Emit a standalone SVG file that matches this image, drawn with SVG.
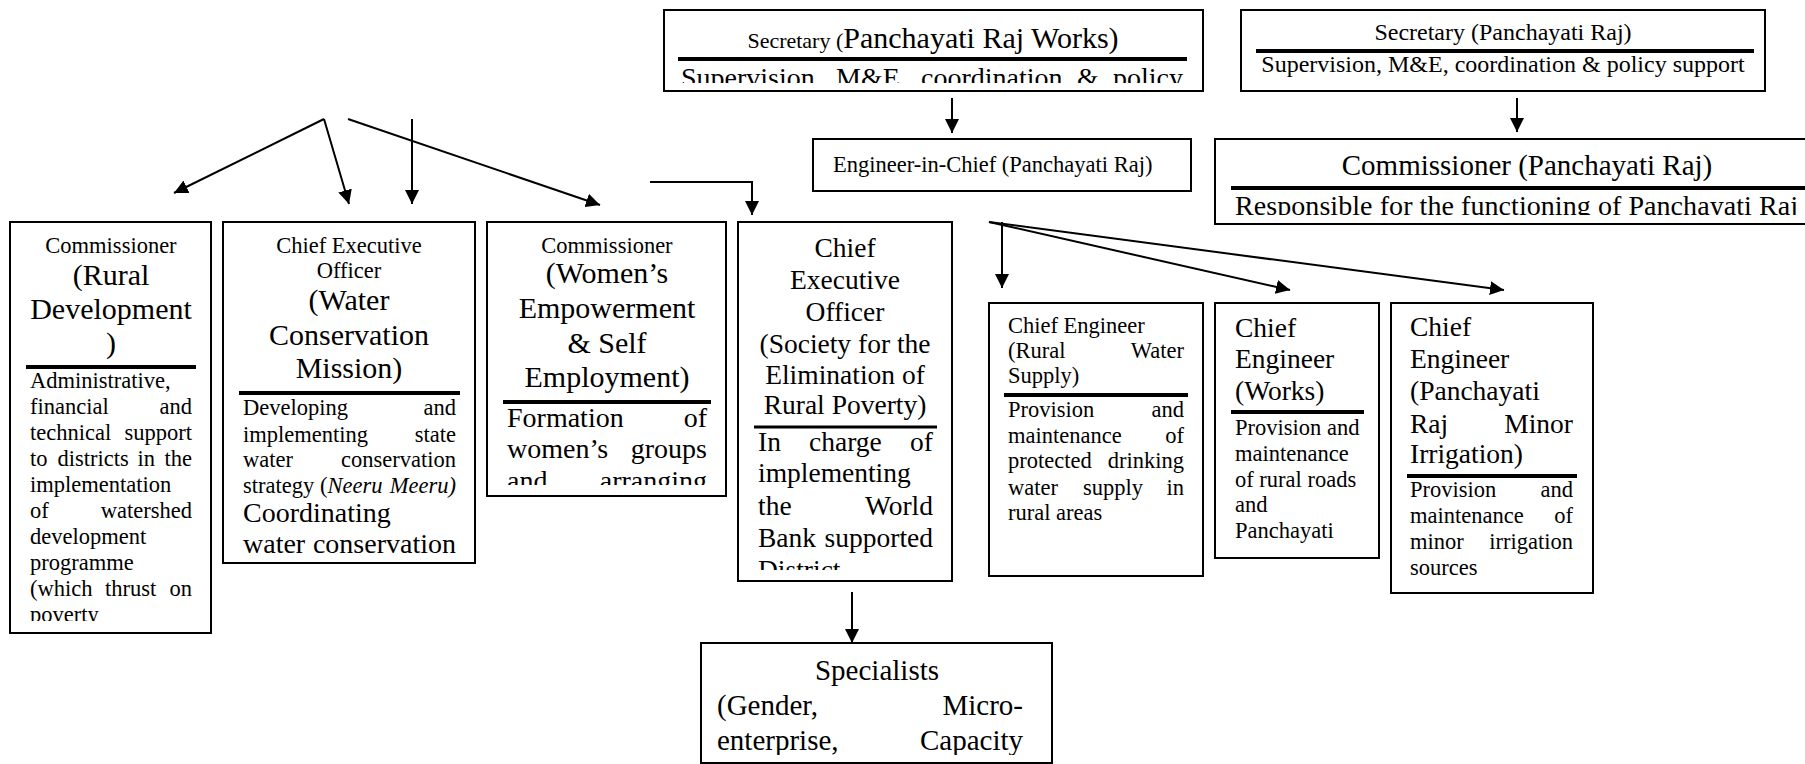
<svg xmlns="http://www.w3.org/2000/svg" width="1805" height="764" viewBox="0 0 1805 764">
<style>
.box{fill:#fff;stroke:#000;stroke-width:2}
.bar{stroke:#000;stroke-width:4}
.bar3{stroke:#000;stroke-width:3}
text{font-family:"Liberation Serif","Times New Roman",serif;fill:#000}
.s22{font-size:22.5px}
.s24{font-size:24px}
.s27{font-size:27.5px}
.s28{font-size:28px}
.s29{font-size:29px}
.s30{font-size:30px}
.c{text-anchor:middle}
.e{text-anchor:end}
.conn path{stroke:#000;stroke-width:2;fill:none;marker-end:url(#ah)}
</style>
<defs>
<marker id="ah" markerUnits="userSpaceOnUse" markerWidth="14" markerHeight="14" refX="14" refY="7" orient="auto"><path d="M0,0 L14,7 L0,14 z" fill="#000"/></marker>
<clipPath id="cp1"><rect x="10" y="369" width="201" height="252"/></clipPath>
<clipPath id="cp2"><rect x="223" y="395" width="252" height="160"/></clipPath>
<clipPath id="cp3"><rect x="487" y="404" width="239" height="81"/></clipPath>
<clipPath id="cp4"><rect x="738" y="429" width="214" height="141"/></clipPath>
<clipPath id="cp5"><rect x="664" y="61" width="539" height="22"/></clipPath>
<clipPath id="cp6"><rect x="1215" y="190" width="590" height="25"/></clipPath>
<clipPath id="cp7"><rect x="701" y="643" width="351" height="112"/></clipPath>
</defs>
<rect width="1805" height="764" fill="#fff"/>

<g id="connectors" class="conn">
<path d="M324,119 L174,193"/>
<path d="M324,119 L349,204"/>
<path d="M412,119 V204"/>
<path d="M348,119 L600,205"/>
<path d="M650,182 H752 V215"/>
<path d="M952,98 V133"/>
<path d="M1517,98 V132"/>
<path d="M1002,222 V288"/>
<path d="M989,222 L1290,290"/>
<path d="M989,222 L1504,290"/>
<path d="M852,592 V643"/>
</g>

<g id="n-sec-prw">
<rect class="box" x="664" y="10" width="539" height="81"/>
<text class="c" x="933" y="48"><tspan font-size="22px">Secretary (</tspan><tspan font-size="30px">Panchayati Raj Works)</tspan></text>
<line class="bar" x1="678" y1="59" x2="1187" y2="59"/>
<g clip-path="url(#cp5)" class="s28">
<text x="681" y="87">Supervision,</text>
<text x="836" y="87">M&amp;E,</text>
<text x="921" y="87">coordination</text>
<text x="1077" y="87">&amp;</text>
<text class="e" x="1183" y="87">policy</text>
</g>
</g>

<g id="n-sec-pr">
<rect class="box" x="1241" y="10" width="524" height="81"/>
<text class="c s24" x="1503" y="40">Secretary (Panchayati Raj)</text>
<line class="bar" x1="1256" y1="51" x2="1754" y2="51"/>
<text class="c s24" x="1503" y="72">Supervision, M&amp;E, coordination &amp; policy support</text>
</g>

<g id="n-eng-chief">
<rect class="box" x="813" y="139" width="378" height="52"/>
<text class="s22" x="833" y="172">Engineer-in-Chief (Panchayati Raj)</text>
</g>

<g id="n-comm-pr">
<rect class="box" x="1215" y="139" width="600" height="85"/>
<text class="c s29" x="1527" y="175">Commissioner (Panchayati Raj)</text>
<line class="bar" x1="1231" y1="188" x2="1805" y2="188"/>
<g clip-path="url(#cp6)">
<text class="s28" x="1235" y="215" textLength="563" lengthAdjust="spacing">Responsible for the functioning of Panchayati Raj</text>
</g>
</g>

<g id="n-comm-rd">
<rect class="box" x="10" y="222" width="201" height="411"/>
<text class="c s22" x="111" y="253">Commissioner</text>
<text class="c s30" x="111" y="285">(Rural</text>
<text class="c s30" x="111" y="319">Development</text>
<text class="c s30" x="111" y="353">)</text>
<line class="bar" x1="26" y1="367" x2="196" y2="367"/>
<g clip-path="url(#cp1)" class="s22">
<text x="30" y="388">Administrative,</text>
<text x="30" y="414">financial</text><text class="e" x="192" y="414">and</text>
<text x="30" y="440">technical</text><text class="e" x="192" y="440">support</text>
<text x="30" y="466">to</text><text x="57.5" y="466">districts</text><text x="137.5" y="466">in</text><text class="e" x="192" y="466">the</text>
<text x="30" y="492">implementation</text>
<text x="30" y="518">of</text><text class="e" x="192" y="518">watershed</text>
<text x="30" y="544">development</text>
<text x="30" y="570">programme</text>
<text x="30" y="596">(which</text><text x="105" y="596">thrust</text><text class="e" x="192" y="596">on</text>
<text x="30" y="622">poverty</text>
</g>
</g>

<g id="n-ceo-wcm">
<rect class="box" x="223" y="222" width="252" height="341"/>
<text class="c s22" x="349" y="253">Chief Executive</text>
<text class="c s22" x="349" y="278">Officer</text>
<text class="c s30" x="349" y="310">(Water</text>
<text class="c s30" x="349" y="345">Conservation</text>
<text class="c s30" x="349" y="378">Mission)</text>
<line class="bar" x1="239" y1="393" x2="460" y2="393"/>
<g clip-path="url(#cp2)">
<g class="s22">
<text x="243" y="415">Developing</text><text class="e" x="456" y="415">and</text>
<text x="243" y="442">implementing</text><text class="e" x="456" y="442">state</text>
<text x="243" y="467">water</text><text class="e" x="456" y="467">conservation</text>
<text x="243" y="493">strategy</text><text x="320" y="493">(<tspan font-style="italic">Neeru</tspan></text><text class="e" x="456" y="493" font-style="italic">Meeru)</text>
</g>
<g class="s28">
<text x="243" y="522">Coordinating</text>
<text x="243" y="553">water</text><text class="e" x="456" y="553">conservation</text>
</g>
</g>
</g>

<g id="n-comm-wese">
<rect class="box" x="487" y="222" width="239" height="274"/>
<text class="c s22" x="607" y="253">Commissioner</text>
<text class="c s30" x="607" y="283">(Women’s</text>
<text class="c s30" x="607" y="318">Empowerment</text>
<text class="c s30" x="607" y="353">&amp; Self</text>
<text class="c s30" x="607" y="387">Employment)</text>
<line class="bar" x1="503" y1="402" x2="711" y2="402"/>
<g clip-path="url(#cp3)" class="s28">
<text x="507" y="427">Formation</text><text class="e" x="707" y="427">of</text>
<text x="507" y="458">women’s</text><text class="e" x="707" y="458">groups</text>
<text x="507" y="490">and</text><text class="e" x="707" y="490">arranging</text>
</g>
</g>

<g id="n-ceo-serp">
<rect class="box" x="738" y="222" width="214" height="359"/>
<g class="c s27">
<text x="845" y="257">Chief</text>
<text x="845" y="289">Executive</text>
<text x="845" y="321">Officer</text>
<text x="845" y="353">(Society for the</text>
<text x="845" y="384">Elimination of</text>
<text x="845" y="414">Rural Poverty)</text>
</g>
<line class="bar3" x1="754" y1="427" x2="937" y2="427"/>
<g clip-path="url(#cp4)" class="s27">
<text x="758" y="451">In</text><text x="809" y="451">charge</text><text class="e" x="933" y="451">of</text>
<text x="758" y="482">implementing</text>
<text x="758" y="515">the</text><text class="e" x="933" y="515">World</text>
<text x="758" y="547">Bank</text><text class="e" x="933" y="547">supported</text>
<text x="758" y="579">District</text>
</g>
</g>

<g id="n-specialists">
<rect class="box" x="701" y="643" width="351" height="120"/>
<g clip-path="url(#cp7)" class="s29">
<text class="c" x="877" y="680">Specialists</text>
<text x="717" y="715">(Gender,</text><text class="e" x="1023" y="715">Micro-</text>
<text x="717" y="750">enterprise,</text><text class="e" x="1023" y="750">Capacity</text>
</g>
</g>

<g id="n-ce-rws">
<rect class="box" x="989" y="303" width="214" height="273"/>
<g class="s22">
<text x="1008" y="333">Chief Engineer</text>
<text x="1008" y="358">(Rural</text><text class="e" x="1184" y="358">Water</text>
<text x="1008" y="383">Supply)</text>
</g>
<line class="bar" x1="1004" y1="395" x2="1188" y2="395"/>
<g class="s22">
<text x="1008" y="417">Provision</text><text class="e" x="1184" y="417">and</text>
<text x="1008" y="443">maintenance</text><text class="e" x="1184" y="443">of</text>
<text x="1008" y="468">protected</text><text class="e" x="1184" y="468">drinking</text>
<text x="1008" y="495">water</text><text x="1083" y="495">supply</text><text class="e" x="1184" y="495">in</text>
<text x="1008" y="520">rural areas</text>
</g>
</g>

<g id="n-ce-works">
<rect class="box" x="1215" y="303" width="164" height="255"/>
<g class="s27">
<text x="1235" y="337">Chief</text>
<text x="1235" y="368">Engineer</text>
<text x="1235" y="400">(Works)</text>
</g>
<line class="bar" x1="1231" y1="412" x2="1364" y2="412"/>
<g class="s22">
<text x="1235" y="435">Provision and</text>
<text x="1235" y="461">maintenance</text>
<text x="1235" y="487">of rural roads</text>
<text x="1235" y="512">and</text>
<text x="1235" y="538">Panchayati</text>
</g>
</g>

<g id="n-ce-prmi">
<rect class="box" x="1391" y="303" width="202" height="290"/>
<g class="s27">
<text x="1410" y="336">Chief</text>
<text x="1410" y="368">Engineer</text>
<text x="1410" y="400">(Panchayati</text>
<text x="1410" y="433">Raj</text><text class="e" x="1573" y="433">Minor</text>
<text x="1410" y="463">Irrigation)</text>
</g>
<line class="bar" x1="1407" y1="476" x2="1577" y2="476"/>
<g class="s22">
<text x="1410" y="497">Provision</text><text class="e" x="1573" y="497">and</text>
<text x="1410" y="523">maintenance</text><text class="e" x="1573" y="523">of</text>
<text x="1410" y="549">minor</text><text class="e" x="1573" y="549">irrigation</text>
<text x="1410" y="575">sources</text>
</g>
</g>
</svg>
